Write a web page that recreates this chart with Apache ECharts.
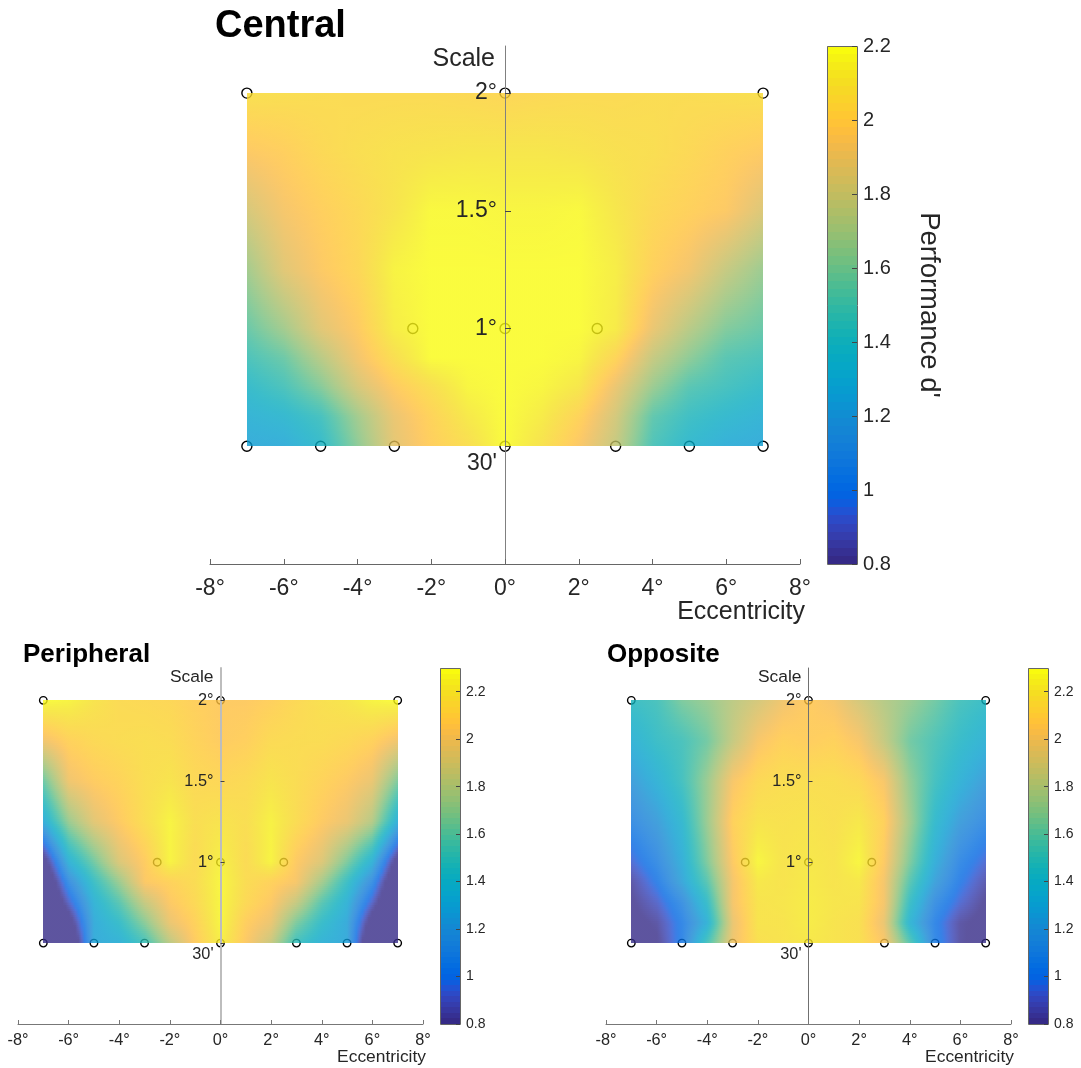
<!DOCTYPE html>
<html>
<head>
<meta charset="utf-8">
<style>html,body{margin:0;padding:0;background:#fff}#c{width:1081px;height:1068px}</style>
<script src="https://cdn.jsdelivr.net/npm/echarts@6/dist/echarts.min.js"></script>
</head>
<body>
<div id="c"></div>
<script>
// ---- data ----
const eccentricities = [-7,-6,-5,-4,-3,-2,-1,0,1,2,3,4,5,6,7];
const scales = [0.5,0.625,0.75,0.875,1,1.25,1.5,1.75,2];

const centralValues = [
 [1.25,1.26,1.37,1.63,1.88,2.00,2.08,2.20,2.10,1.96,1.78,1.47,1.35,1.27,1.25],
 [1.30,1.34,1.44,1.68,1.90,2.02,2.13,2.20,2.14,2.02,1.82,1.52,1.41,1.35,1.30],
 [1.37,1.46,1.61,1.83,1.98,2.08,2.18,2.20,2.18,2.12,1.90,1.66,1.50,1.44,1.38],
 [1.46,1.55,1.74,1.93,2.08,2.20,2.20,2.20,2.20,2.18,2.03,1.78,1.63,1.50,1.46],
 [1.54,1.68,1.87,1.98,2.15,2.20,2.20,2.20,2.20,2.20,2.14,1.90,1.74,1.60,1.54],
 [1.68,1.87,1.97,2.04,2.17,2.20,2.20,2.20,2.20,2.20,2.15,2.01,1.93,1.78,1.66],
 [1.83,1.94,2.00,2.05,2.11,2.19,2.19,2.18,2.18,2.19,2.12,2.05,2.01,1.97,1.85],
 [1.97,2.00,2.05,2.08,2.10,2.11,2.12,2.12,2.12,2.11,2.09,2.08,2.05,2.01,1.98],
 [2.09,2.08,2.07,2.06,2.06,2.06,2.05,2.04,2.05,2.06,2.06,2.07,2.07,2.08,2.09]
];
const peripheralValues = [
 [0.10,0.48,1.28,1.32,1.50,1.82,2.07,2.25,2.05,1.86,1.48,1.33,1.27,0.48,0.10],
 [0.30,0.68,1.28,1.42,1.68,1.98,2.10,2.28,2.08,1.98,1.65,1.42,1.27,0.68,0.30],
 [0.40,0.90,1.33,1.55,1.85,2.05,2.14,2.28,2.14,2.05,1.85,1.55,1.33,0.90,0.40],
 [0.50,1.10,1.45,1.72,2.05,2.10,2.16,2.28,2.16,2.10,2.03,1.75,1.45,1.10,0.50],
 [0.68,1.33,1.62,1.92,2.07,2.27,2.15,2.26,2.15,2.27,2.06,1.93,1.65,1.33,0.68],
 [1.28,1.72,1.95,2.06,2.17,2.27,2.17,2.20,2.17,2.26,2.16,2.06,1.98,1.80,1.30],
 [1.60,2.00,2.07,2.11,2.17,2.20,2.14,2.13,2.15,2.20,2.16,2.11,2.06,1.98,1.65],
 [2.00,2.10,2.14,2.16,2.17,2.16,2.11,2.07,2.09,2.15,2.16,2.16,2.14,2.10,2.00],
 [2.30,2.27,2.20,2.15,2.14,2.13,2.09,2.06,2.06,2.09,2.14,2.18,2.21,2.27,2.30]
];
const oppositeValues = [
 [0.72,0.78,1.03,1.50,2.00,2.18,2.20,2.22,2.20,2.18,2.04,1.55,1.05,0.82,0.72],
 [0.75,0.82,1.03,1.32,1.98,2.20,2.20,2.24,2.20,2.18,1.98,1.35,1.03,0.82,0.75],
 [0.78,0.90,1.10,1.42,2.02,2.20,2.21,2.24,2.21,2.20,2.02,1.44,1.10,0.92,0.78],
 [0.82,1.00,1.25,1.55,2.02,2.22,2.20,2.23,2.20,2.22,2.02,1.55,1.22,1.00,0.84],
 [0.92,1.08,1.30,1.65,2.06,2.28,2.20,2.22,2.20,2.28,2.06,1.65,1.30,1.06,0.92],
 [1.08,1.20,1.38,1.72,2.10,2.20,2.19,2.20,2.18,2.22,2.10,1.74,1.40,1.20,1.08],
 [1.20,1.33,1.48,1.72,2.03,2.14,2.17,2.17,2.17,2.14,2.03,1.70,1.48,1.33,1.20],
 [1.33,1.44,1.50,1.62,1.85,2.03,2.10,2.08,2.10,2.03,1.85,1.62,1.52,1.42,1.33],
 [1.45,1.50,1.65,1.72,1.82,1.90,2.00,2.07,2.02,1.90,1.80,1.72,1.62,1.50,1.44]
];
const pointX = [-7,-5,-3,0,3,5,7,-2.5,0,2.5,-7,0,7];
const pointY = [0.5,0.5,0.5,0.5,0.5,0.5,0.5,1,1,1,2,2,2];

const xTickValues = [-8,-6,-4,-2,0,2,4,6,8];
const yTickValues = [0.5,1,1.5,2];
const yTickLabels = ["30'","1°","1.5°","2°"];
const colorbarTicks = [0.8,1,1.2,1.4,1.6,1.8,2,2.2];
const panelTitles = ['Central','Peripheral','Opposite'];

// MATLAB parula, 64 levels
const parula = [
[.2081,.1663,.5292],[.2116,.1898,.5777],[.2123,.2138,.6270],[.2081,.2386,.6771],[.1959,.2645,.7279],[.1707,.2919,.7792],[.1253,.3242,.8303],[.0591,.3598,.8683],
[.0117,.3875,.8820],[.0060,.4086,.8828],[.0165,.4266,.8786],[.0329,.4430,.8720],[.0498,.4586,.8641],[.0629,.4737,.8554],[.0723,.4887,.8467],[.0779,.5040,.8384],
[.0793,.5200,.8312],[.0749,.5375,.8263],[.0641,.5570,.8240],[.0488,.5772,.8228],[.0343,.5966,.8199],[.0265,.6137,.8135],[.0239,.6287,.8038],[.0231,.6418,.7913],
[.0228,.6535,.7768],[.0267,.6642,.7607],[.0384,.6743,.7436],[.0590,.6838,.7254],[.0843,.6928,.7062],[.1133,.7015,.6859],[.1453,.7098,.6646],[.1801,.7177,.6424],
[.2178,.7250,.6193],[.2586,.7317,.5954],[.3022,.7376,.5712],[.3482,.7424,.5473],[.3953,.7459,.5244],[.4420,.7481,.5033],[.4871,.7491,.4840],[.5300,.7491,.4661],
[.5709,.7485,.4494],[.6099,.7473,.4337],[.6473,.7456,.4188],[.6834,.7435,.4044],[.7184,.7411,.3905],[.7525,.7384,.3768],[.7858,.7356,.3633],[.8185,.7327,.3498],
[.8507,.7299,.3360],[.8824,.7274,.3217],[.9139,.7258,.3063],[.9450,.7261,.2886],[.9739,.7314,.2666],[.9938,.7455,.2403],[.9990,.7653,.2164],[.9955,.7861,.1967],
[.9880,.8066,.1794],[.9789,.8271,.1633],[.9697,.8481,.1475],[.9626,.8705,.1309],[.9589,.8949,.1132],[.9598,.9218,.0948],[.9661,.9514,.0755],[.9763,.9831,.0538]
];

const FONT = 'Liberation Sans', INK = '#262626', SURFACE_ALPHA = 0.8;

function colorOf(t, alpha) {
  t = Math.max(0, Math.min(1, t)) * 63;
  const i = Math.min(62, Math.floor(t)), f = t - i;
  const c = [0,1,2].map(k => Math.round(255 * (parula[i][k] * (1 - f) + parula[i + 1][k] * f)));
  return 'rgba(' + c[0] + ',' + c[1] + ',' + c[2] + ',' + alpha + ')';
}

const panels = [
  {values: centralValues, grid: {left: 210, top: 46, width: 590, height: 518}, bar: {left: 827, top: 46, width: 30, height: 518},
   cMax: 2.2, title: {left: 215, top: 8, fontSize: 38}, tick: 23, nameSize: 25, barFont: 20, barName: true,
   sym: 10, lowPad: 34, lineColor: '#808080', lineWidth: 1, axisColor: '#666', nameTop: 36, nameGap: 5, scaleRight: 10, xMargin: 13},
  {values: peripheralValues, grid: {left: 18, top: 668, width: 405, height: 356}, bar: {left: 440, top: 668, width: 20, height: 356},
   cMax: 2.3, title: {left: 23, top: 642, fontSize: 26}, tick: 16.3, nameSize: 17.4, barFont: 14,
   sym: 7.5, lowPad: 22, lineColor: '#bdbdbd', lineWidth: 2, axisColor: '#777', nameTop: 25, nameGap: 3, scaleRight: 7, xMargin: 9},
  {values: oppositeValues, grid: {left: 606, top: 668, width: 405, height: 356}, bar: {left: 1028, top: 668, width: 20, height: 356},
   cMax: 2.3, title: {left: 607, top: 642, fontSize: 26}, tick: 16.3, nameSize: 17.4, barFont: 14,
   sym: 7.5, lowPad: 22, lineColor: '#707070', lineWidth: 1, axisColor: '#777', nameTop: 25, nameGap: 3, scaleRight: 7, xMargin: 9}
];

const option = {animation: false, backgroundColor: '#fff', title: [], grid: [], xAxis: [], yAxis: [], series: []};

panels.forEach((p, n) => {
  const cMin = 0.8, cMax = p.cMax;
  const plotIdx = n * 2, barIdx = n * 2 + 1;

  option.title.push({text: panelTitles[n], left: p.title.left, top: p.title.top, padding: 0,
    textStyle: {fontFamily: FONT, fontWeight: 'bold', fontSize: p.title.fontSize, color: '#000'}});

  option.grid.push(Object.assign({outerBoundsMode: 'none'}, p.grid), Object.assign({outerBoundsMode: 'none'}, p.bar));

  // main axes: horizontal at the bottom, vertical crossing at zero
  option.xAxis.push({
    gridIndex: plotIdx, type: 'value', min: -8, max: 8, interval: 2, z: 10,
    name: 'Eccentricity', nameLocation: 'end', nameGap: p.nameGap,
    nameTextStyle: {fontFamily: FONT, fontSize: p.nameSize, color: INK, align: 'right', verticalAlign: 'top', padding: [p.nameTop, 0, 0, 0]},
    axisLine: {onZero: false, lineStyle: {color: p.axisColor, width: 1}},
    axisTick: {inside: true, length: n === 0 ? 5 : 4, lineStyle: {color: p.axisColor}},
    axisLabel: {fontFamily: FONT, fontSize: p.tick, color: INK, margin: p.xMargin, formatter: v => v + '°', customValues: xTickValues},
    splitLine: {show: false}
  });
  option.yAxis.push({
    gridIndex: plotIdx, type: 'value', min: 0, max: 2.2, z: 10,
    offset: -p.grid.width / 2,
    name: 'Scale', nameLocation: 'end', nameGap: 0,
    nameTextStyle: {fontFamily: FONT, fontSize: p.nameSize, color: INK, align: 'right', verticalAlign: 'top', padding: [1, p.scaleRight, 0, 0]},
    axisLine: {onZero: false, show: true, lineStyle: {color: p.lineColor, width: p.lineWidth}},
    axisTick: {show: true, inside: true, length: n === 0 ? 6 : 4, lineStyle: {color: '#444'}, customValues: yTickValues},
    axisLabel: {
      customValues: yTickValues, margin: n === 0 ? 8 : 7, fontFamily: FONT, fontSize: p.tick, color: INK,
      formatter: v => { const s = yTickLabels[yTickValues.indexOf(v)]; return v === 0.5 ? '{low|' + s + '}' : s; },
      rich: {low: {fontFamily: FONT, fontSize: p.tick, color: INK, padding: [p.lowPad, 0, 0, 0]}}
    },
    splitLine: {show: false}
  });

  // colourbar axes
  option.xAxis.push({gridIndex: barIdx, type: 'value', min: 0, max: 1, show: false});
  option.yAxis.push({
    gridIndex: barIdx, type: 'value', position: 'right', min: cMin, max: cMax, z: 10,
    name: p.barName ? "Performance d'" : '', nameLocation: 'middle', nameGap: 58, nameRotate: -90,
    nameTextStyle: {fontFamily: FONT, fontSize: 27.5, color: INK},
    axisLine: {onZero: false, show: false},
    axisTick: {show: true, inside: true, length: n === 0 ? 5 : 4, lineStyle: {color: '#444'}, customValues: colorbarTicks},
    axisLabel: {customValues: colorbarTicks, margin: 6, fontFamily: FONT, fontSize: p.barFont, color: INK},
    splitLine: {show: false}
  });

  // sample points: under the translucent surface, as in the reference
  option.series.push({
    type: 'scatter', xAxisIndex: plotIdx, yAxisIndex: plotIdx, z: 1, clip: false, silent: true,
    symbol: 'circle', symbolSize: p.sym,
    itemStyle: {color: 'rgba(0,0,0,0)', borderColor: '#000', borderWidth: 1.4, opacity: 1},
    data: pointX.map((x, i) => [x, pointY[i]])
  });

  // translucent interpolated surface: one mark for each grid cell
  const cells = [];
  for (let j = 0; j < scales.length - 1; j++)
    for (let i = 0; i < eccentricities.length - 1; i++)
      cells.push([eccentricities[i], scales[j], i, j]);

  option.series.push({
    type: 'custom', xAxisIndex: plotIdx, yAxisIndex: plotIdx, z: 2, silent: true,
    encode: {x: 0, y: 1}, data: cells,
    renderItem(params, api) {
      const i = api.value(2), j = api.value(3), V = p.values;
      const pA = api.coord([eccentricities[i], scales[j]]);
      const pB = api.coord([eccentricities[i + 1], scales[j + 1]]);
      const x0 = Math.round(pA[0]), x1 = Math.round(pB[0]);
      const yBot = Math.round(pA[1]), yTop = Math.round(pB[1]);
      const children = [];
      const strip = 2, nStops = 8;
      for (let y = yTop; y < yBot; y += strip) {
        const yEnd = Math.min(yBot, y + strip);
        const f = ((y + yEnd) / 2 - yTop) / (yBot - yTop);   // 0 at top row, 1 at bottom row
        const left = V[j + 1][i] * (1 - f) + V[j][i] * f;
        const right = V[j + 1][i + 1] * (1 - f) + V[j][i + 1] * f;
        const stops = [];
        for (let s = 0; s <= nStops; s++) {
          const o = s / nStops, v = left * (1 - o) + right * o;
          stops.push({offset: o, color: colorOf((v - cMin) / (cMax - cMin), SURFACE_ALPHA)});
        }
        children.push({type: 'rect', shape: {x: x0, y: y, width: x1 - x0, height: yEnd - y},
          style: {fill: new echarts.graphic.LinearGradient(0, 0, 1, 0, stops)}});
      }
      return {type: 'group', children};
    }
  });

  // colourbar, one rectangle for each colormap level
  const levels = parula.map((c, k) => [0.5, cMin + (cMax - cMin) * k / 64, k]);
  option.series.push({
    type: 'custom', xAxisIndex: barIdx, yAxisIndex: barIdx, z: 2, silent: true,
    encode: {x: 0, y: 1}, data: levels,
    renderItem(params, api) {
      const k = api.value(2);
      const a = api.coord([0, cMin + (cMax - cMin) * k / 64]);
      const b = api.coord([1, cMin + (cMax - cMin) * (k + 1) / 64]);
      const yA = Math.round(a[1]), yB = Math.round(b[1]);
      return {type: 'rect', shape: {x: a[0], y: yB, width: b[0] - a[0], height: yA - yB},
        style: {fill: colorOf(k / 63, 1)}};
    }
  });
  // colourbar frame
  option.series.push({
    type: 'custom', xAxisIndex: barIdx, yAxisIndex: barIdx, z: 3, silent: true,
    encode: {x: 0, y: 1}, data: [[0, cMin]],
    renderItem(params, api) {
      const a = api.coord([0, cMin]), b = api.coord([1, cMax]);
      return {type: 'rect', shape: {x: a[0] + 0.5, y: b[1] + 0.5, width: b[0] - a[0], height: a[1] - b[1]},
        style: {fill: 'none', stroke: '#666', lineWidth: 1}};
    }
  });
});

const chart = echarts.init(document.getElementById('c'), null, {renderer: 'canvas', width: 1081, height: 1068});
chart.setOption(option);
</script>
</body>
</html>
